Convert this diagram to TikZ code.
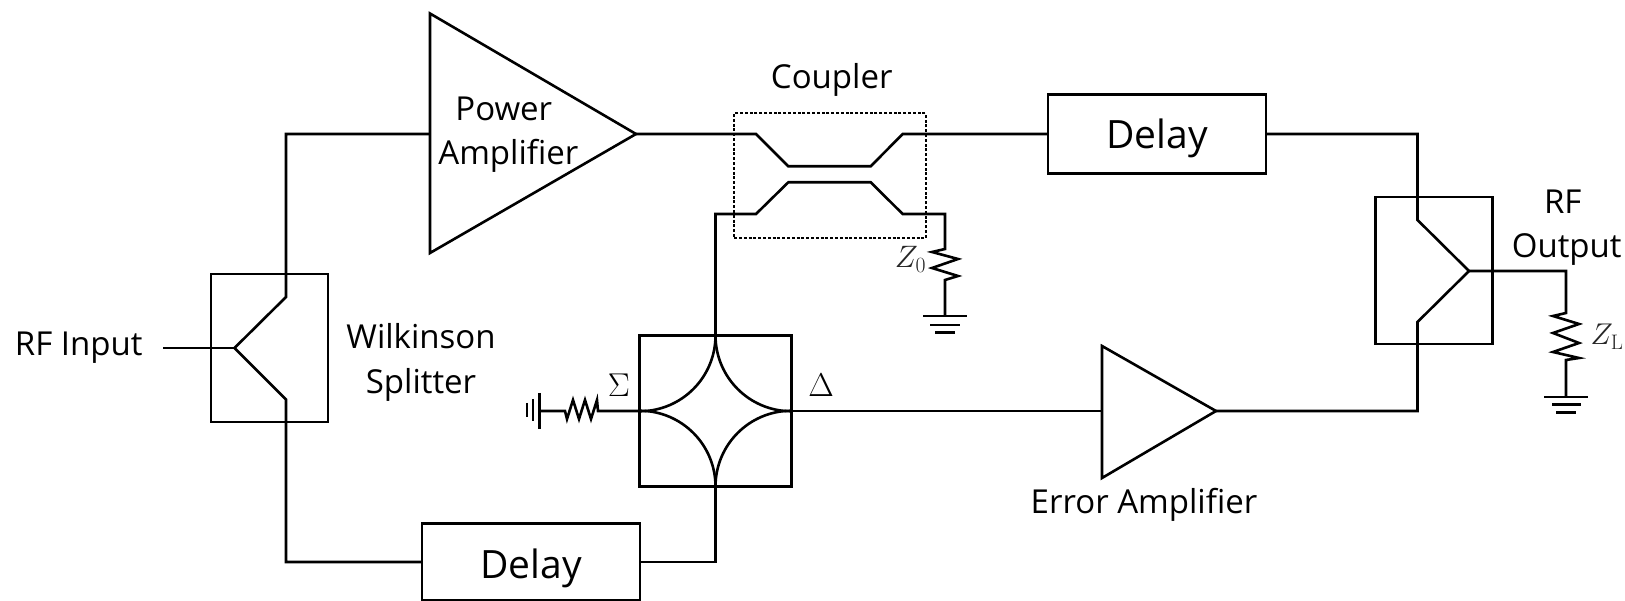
\RequirePackage{fix-cm}
\documentclass[tikz,border=0pt]{standalone}
\usepackage[no-math]{fontspec}
\setmainfont{Open Sans}
\begin{document}
\begin{tikzpicture}[x=1pt,y=-1pt,
  wire/.style={line width=2.6pt,line join=miter},
  boxnode/.style={draw,line width=2.6pt,rectangle,inner sep=0pt,outer sep=0pt},
  lbl/.style={inner sep=0pt,outer sep=0pt,anchor=base,font=\fontsize{33}{36}\selectfont},
  biglbl/.style={inner sep=0pt,outer sep=0pt,anchor=base,font=\fontsize{39}{42}\selectfont},
  mathlbl/.style={inner sep=0pt,outer sep=0pt,anchor=base,font=\fontsize{31}{36}\selectfont,text=black!85},
  sym/.style={inner sep=0pt,outer sep=0pt,anchor=base,font=\fontsize{33}{36}\selectfont}]
\useasboundingbox (0,0) rectangle (1625,601);
\fill[white] (0,0) rectangle (1625,601);

% blocks
\node[boxnode,minimum width=117pt,minimum height=148pt] (wilk) at (269.5,348) {};
\node[boxnode,minimum width=152pt,minimum height=151pt] (hyb) at (715.5,411) {};
\node[boxnode,minimum width=116.6pt,minimum height=147pt] (comb) at (1434,270.7) {};
\node[boxnode,minimum width=218pt,minimum height=77pt] (delayb) at (531,562) {};
\node[biglbl] (delaybt) at (531,578) {Delay};
\node[boxnode,minimum width=218pt,minimum height=79pt] (delayt) at (1157,134) {};
\node[biglbl] (delaytt) at (1157,149) {Delay};
\node[draw,line width=1.8pt,rectangle,inner sep=0pt,minimum width=191.5pt,minimum height=125pt,dash pattern=on 3pt off 1.8pt] (coup) at (830,175.8) {};

% amplifiers
\coordinate (patop) at (430,13.5);
\coordinate (pabot) at (430,253);
\coordinate (pain)  at (430,134);
\coordinate (paout) at (636,134);
\draw[wire] (patop) -- (paout) -- (pabot) -- cycle;
\coordinate (eatop) at (1102,346);
\coordinate (eabot) at (1102,478);
\coordinate (eain)  at (1102,411);
\coordinate (eaout) at (1216,411);
\draw[wire] (eatop) -- (eaout) -- (eabot) -- cycle;

% splitter
\coordinate (rfin) at (163,348);
\coordinate (wj) at (234.5,348);
\coordinate (wu) at (286,297);
\coordinate (wd) at (286,399.5);
\coordinate (wtop) at (286,134);
\coordinate (wbot) at (286,562);
\draw[wire] (rfin) -- (wj);
\draw[wire] (pain) -- (wtop) -- (wu) -- (wj) -- (wd) -- (wbot) -- (delayb.west |- wbot);

% delay to hybrid
\coordinate (hs) at (715.5,562);
\draw[wire] (delayb.east |- hs) -- (hs) -- (hyb.south);
% hybrid star
\draw[wire] (hyb.north) arc[start angle=0,end angle=90,radius=75.75];
\draw[wire] (hyb.north) arc[start angle=180,end angle=90,radius=75.75];
\draw[wire] (hyb.south) arc[start angle=0,end angle=-90,radius=75.75];
\draw[wire] (hyb.south) arc[start angle=180,end angle=270,radius=75.75];

% coupler
\coordinate (c1) at (756,134);
\coordinate (c2) at (788.3,166.3);
\coordinate (c3) at (870.7,166.3);
\coordinate (c4) at (902.7,134);
\draw[wire] (paout) -- (c1) -- (c2) -- (c3) -- (c4) -- (delayt.west |- c4);
\coordinate (d0) at (715.5,214);
\coordinate (d1) at (756,214);
\coordinate (d2) at (788.3,182.3);
\coordinate (d3) at (870.7,182.3);
\coordinate (d4) at (902.7,214);
\coordinate (d5) at (945,214);
\coordinate (r0t) at (945,249);
\coordinate (r0b) at (945,280);
\coordinate (g0) at (945,316);
\draw[wire] (hyb.north) -- (d0) -- (d1) -- (d2) -- (d3) -- (d4) -- (d5) -- (r0t)
  -- (932,252) -- (958,259) -- (932,268) -- (958,276) -- (r0b) -- (g0);
\draw[wire] (923,316) -- (967,316) (930,325) -- (960,325) (935,332.5) -- (955,332.5);

% top delay to combiner, error amp
\coordinate (ct) at (1417.5,134);
\coordinate (cu) at (1417.5,220);
\coordinate (cj) at (1469,271);
\coordinate (cd) at (1417.5,322);
\coordinate (cb) at (1417.5,411);
\draw[wire] (delayt.east |- ct) -- (ct) -- (cu) -- (cj) -- (cd) -- (cb) -- (eaout);
\draw[wire] (hyb.east) -- (eain);

% output
\coordinate (o1) at (1566,271);
\coordinate (r1t) at (1566,313);
\coordinate (r1b) at (1566,360);
\coordinate (g1) at (1566,397);
\draw[wire] (cj) -- (o1) -- (r1t) -- (1553,316) -- (1579,324) -- (1553,333) -- (1579,343) -- (1553,352) -- (1579,358) -- (r1b) -- (g1);
\draw[wire] (1544,397) -- (1588,397) (1552,404.5) -- (1581,404.5) (1556,412.5) -- (1576,412.5);

% left termination
\coordinate (t0) at (598,411);
\coordinate (t1) at (565,411);
\coordinate (t2) at (540,411);
\draw[wire] (hyb.west) -- (t0) -- (597,400) -- (591,419) -- (585,400) -- (579,419) -- (573,400) -- (567,419) -- (t1) -- (t2);
\draw[wire] (539.5,393) -- (539.5,429) (533,399) -- (533,421) (527,403) -- (527,417);

% labels
\node[lbl] (rfinl) at (78.7,355.7) {RF Input};
\node[lbl] (wil) at (421,349) {Wilkinson};
\node[lbl] (spl) at (421,393) {Splitter};
\node[lbl] (pw) at (503.8,121) {Power};
\node[lbl] (am) at (508.4,165) {Amplifier};
\node[lbl] (cpl) at (831.7,88.5) {Coupler};
\node[lbl] (rfo) at (1562.7,214) {RF};
\node[lbl] (out) at (1566.7,258) {Output};
\node[lbl] (err) at (1144,513) {Error Amplifier};
\node[sym] (sig) at (619,397) {$\Sigma$};
\node[sym] (del) at (821,397) {$\Delta$};
\node[mathlbl] (z0) at (910.5,268) {$Z_0$};
\node[mathlbl,font=\fontsize{30}{36}\selectfont] (zl) at (1607,345) {$Z_{\mathrm L}$};
\end{tikzpicture}
\end{document}
